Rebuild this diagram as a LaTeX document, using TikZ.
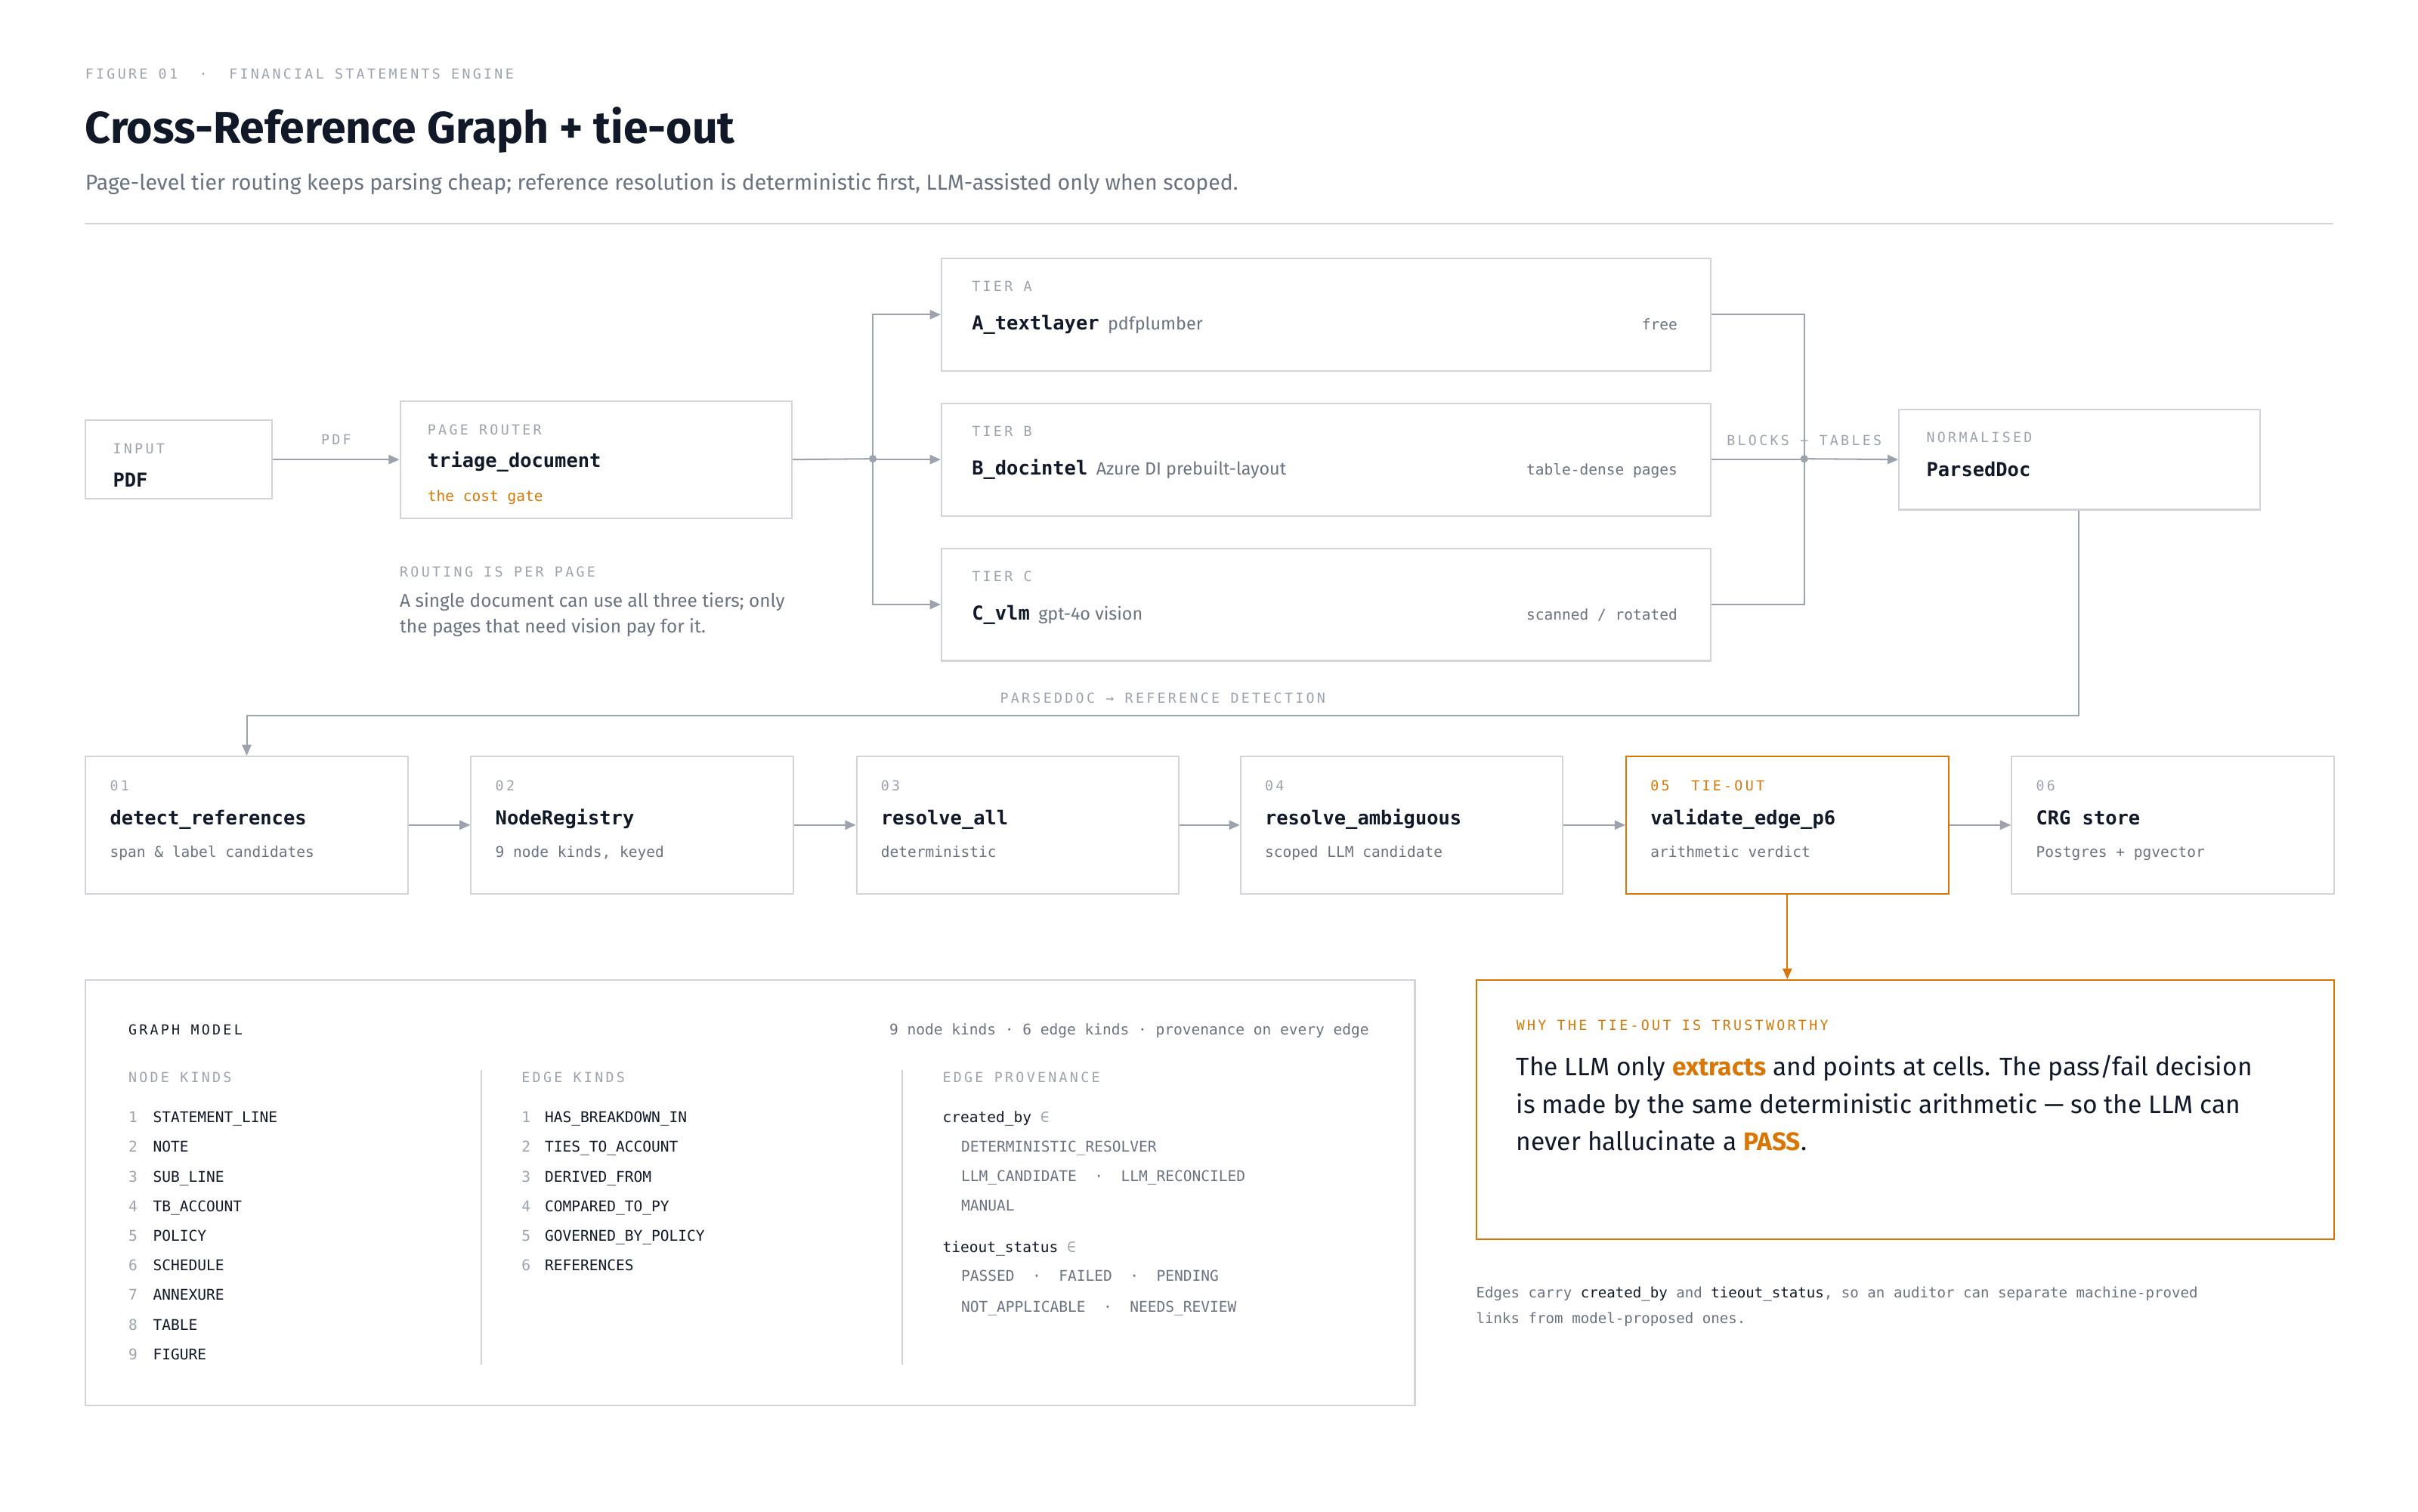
\documentclass[tikz,border=0pt]{standalone}
\usepackage{fontspec}
\setmainfont{Fira Sans}
\setsansfont{Fira Sans}
\setmonofont{DejaVu Sans Mono}
\newfontfamily\capsmono[LetterSpace=18]{DejaVu Sans Mono}
\usetikzlibrary{arrows,arrows.meta,positioning,calc}
\definecolor{bordc}{HTML}{D1D5DB}
\definecolor{linec}{HTML}{9CA3AF}
\definecolor{labc}{HTML}{9CA3AF}
\definecolor{greyc}{HTML}{6B7280}
\definecolor{darkc}{HTML}{111827}
\definecolor{orangec}{HTML}{D97706}
\newcommand{\capsz}{\fontsize{9}{10}\capsmono}
\newcommand{\namesz}{\fontsize{12.5}{14}\ttfamily\bfseries}
\newcommand{\subsz}{\fontsize{9.6}{11}\ttfamily}
\begin{document}
\begin{tikzpicture}[x=1bp,y=-1bp,>={Triangle[length=7bp,width=6bp]},semithick,
 box/.style={draw=bordc, line width=1bp, inner sep=0pt, anchor=north west},
 txt/.style={inner sep=0pt, anchor=base west},
 lab/.style={txt, text=labc, font=\capsz},
 nm/.style={txt, text=darkc, font=\namesz},
 sub/.style={txt, text=greyc, font=\subsz},
 flow/.style={->, draw=linec, line width=1bp}]
\useasboundingbox (0,0) rectangle (1568,980);
% header
\node[lab] (fig) at (55,51) {FIGURE 01 \ · \ FINANCIAL STATEMENTS ENGINE};
\node[txt, text=darkc, font=\fontsize{29}{33}\sffamily\bfseries] (title) at (55,93) {Cross-Reference Graph + tie-out};
\node[txt, text=greyc, font=\fontsize{14}{16}\sffamily] (subtitle) at (55,123) {Page-level tier routing keeps parsing cheap; reference resolution is deterministic first, LLM-assisted only when scoped.};
\draw[bordc, line width=1bp] (55,145) -- (1513,145);
% input + router
\node[box, minimum width=121bp, minimum height=51bp] (input) at (55,272) {};
\node[lab] (inputcap) at (73,294) {INPUT};
\node[nm] (inputnm) at (73,316) {PDF};
\node[box, minimum width=254bp, minimum height=76bp] (router) at (259,259.5) {};
\node[lab] (routercap) at (277,282) {PAGE ROUTER};
\node[nm] (routernm) at (277,303) {triage\_document};
\node[sub, text=orangec] (routersub) at (277,325) {the cost gate};
\draw[flow] (input.east |- router.west) -- node[above=6bp, text=labc, font=\capsz] {PDF} (router.west);
\node[lab] (notecap) at (259,374) {ROUTING IS PER PAGE};
\node[txt, text=greyc, font=\fontsize{12}{17}\sffamily, align=left, anchor=north west] (note) at (259,384) {A single document can use all three tiers; only\\the pages that need vision pay for it.};
% tiers
\foreach \t/\y/\nm/\cm/\rt in {A/167/A\_textlayer/pdfplumber/free,
  B/261/B\_docintel/Azure DI prebuilt-layout/table-dense pages,
  C/355/C\_vlm/gpt-4o vision/{scanned / rotated}} {
  \node[box, minimum width=499bp, minimum height=73bp] (tier\t) at (610,\y) {};
  \node[lab] (tier\t cap) at (630,\y+22) {TIER \t};
  \node[nm] (tier\t nm) at (630,\y+47) {\nm};
  \node[txt, right=5bp of tier\t nm.base east, anchor=base west, text=greyc, font=\fontsize{11.5}{13}\sffamily] {\cm};
  \node[sub, anchor=base east] (tier\t rt) at (1088,\y+47) {\rt};
}
\coordinate (split) at (566,297.5);
\coordinate (merge) at (1170,297.5);
\draw[linec, line width=1bp] (router.east) -- (split);
\fill[linec] (split) circle (2.5bp) (merge) circle (2.5bp);
\foreach \t in {A,B,C} {
  \draw[flow] (split) |- (tier\t.west);
  \draw[linec, line width=1bp] (tier\t.east) -| (merge);
}
\node[box, minimum width=234bp, minimum height=65bp] (parsed) at (1231,265) {};
\node[lab] (parsedcap) at (1249,287) {NORMALISED};
\node[nm] (parsednm) at (1249,309) {ParsedDoc};
\draw[flow] (merge) -- (parsed.west);
\node[lab, anchor=base] (mergelab) at (1170,289) {BLOCKS + TABLES};
% pipeline
\foreach \i/\x/\nm/\sb in {1/55/detect\_references/span \& label candidates,
  2/305/NodeRegistry/9 node kinds{,} keyed,
  3/555/resolve\_all/deterministic,
  4/804/resolve\_ambiguous/scoped LLM candidate,
  5/1054/validate\_edge\_p6/arithmetic verdict,
  6/1304/CRG store/Postgres + pgvector} {
  \node[box, minimum width=209bp, minimum height=89bp] (step\i) at (\x,490) {};
  \node[lab] (step\i cap) at (\x+16,513) {0\i};
  \node[nm] (step\i nm) at (\x+16,535) {\nm};
  \node[sub] (step\i sub) at (\x+16,556) {\sb};
}
\node[box, draw=orangec, minimum width=209bp, minimum height=89bp] (step5hl) at (1054,490) {};
\node[lab, text=orangec, fill=white] (step5tag) at (1070,513) {05 \ TIE-OUT};
\foreach \a/\b in {1/2,2/3,3/4,4/5,5/6}
  \draw[flow] (step\a) -- (step\b);
\coordinate (bend) at (1348,464);
\coordinate (drop) at (160,464);
\draw[flow] (parsed.south -| bend) -- (bend) -- (drop) -- (step1.north -| drop);
\node[lab, anchor=base] (bendlab) at (754,456) {PARSEDDOC → REFERENCE DETECTION};
% tie-out note
\node[box, draw=orangec, minimum width=556bp, minimum height=168bp] (why) at (957,635) {};
\draw[->, draw=orangec, line width=1bp] (step5.south) -- (step5.south |- why.north);
\node[lab, text=orangec] (whycap) at (983,668) {WHY THE TIE-OUT IS TRUSTWORTHY};
\node[txt, anchor=north west, text=darkc, font=\fontsize{16.5}{24.3}\sffamily, align=left] (whytxt) at (983,684) {The LLM only \textcolor{orangec}{\bfseries extracts} and points at cells. The pass/fail decision\\is made by the same deterministic arithmetic — so the LLM can\\never hallucinate a \textcolor{orangec}{\bfseries PASS}.};
\node[txt, anchor=north west, text=greyc, font=\fontsize{9.4}{17}\ttfamily, align=left] (foot) at (957,834) {Edges carry \textcolor{darkc}{created\_by} and \textcolor{darkc}{tieout\_status}, so an auditor can separate machine-proved\\links from model-proposed ones.};
% graph model
\node[box, minimum width=862bp, minimum height=276bp] (model) at (55,635) {};
\node[lab, text=darkc] (modelcap) at (83,671) {GRAPH MODEL};
\node[sub, anchor=base east] (modelrt) at (888,671) {9 node kinds · 6 edge kinds · provenance on every edge};
\draw[bordc, line width=1bp] (312,694) -- (312,885) (585,694) -- (585,885);
\node[lab] (nodecap) at (83,702) {NODE KINDS};
\node[lab] (edgecap) at (338,702) {EDGE KINDS};
\node[lab] (provcap) at (611,702) {EDGE PROVENANCE};
\foreach \k [count=\n] in {STATEMENT\_LINE,NOTE,SUB\_LINE,TB\_ACCOUNT,POLICY,SCHEDULE,ANNEXURE,TABLE,FIGURE} {
  \node[sub, text=labc] (nk\n) at (83,728+19.2*\n-19.2) {\n};
  \node[sub, text=darkc] (nkt\n) at (99,728+19.2*\n-19.2) {\k};
}
\foreach \k [count=\n] in {HAS\_BREAKDOWN\_IN,TIES\_TO\_ACCOUNT,DERIVED\_FROM,COMPARED\_TO\_PY,GOVERNED\_BY\_POLICY,REFERENCES} {
  \node[sub, text=labc] (ek\n) at (338,728+19.2*\n-19.2) {\n};
  \node[sub, text=darkc] (ekt\n) at (353,728+19.2*\n-19.2) {\k};
}
\node[sub, text=darkc] (cb) at (611,728) {created\_by \textcolor{labc}{∈}};
\node[sub] (cb1) at (623,747) {DETERMINISTIC\_RESOLVER};
\node[sub] (cb2) at (623,766) {LLM\_CANDIDATE \ · \ LLM\_RECONCILED};
\node[sub] (cb3) at (623,785) {MANUAL};
\node[sub, text=darkc] (ts) at (611,812) {tieout\_status \textcolor{labc}{∈}};
\node[sub] (ts1) at (623,831) {PASSED \ · \ FAILED \ · \ PENDING};
\node[sub] (ts2) at (623,851) {NOT\_APPLICABLE \ · \ NEEDS\_REVIEW};
\end{tikzpicture}
\end{document}
